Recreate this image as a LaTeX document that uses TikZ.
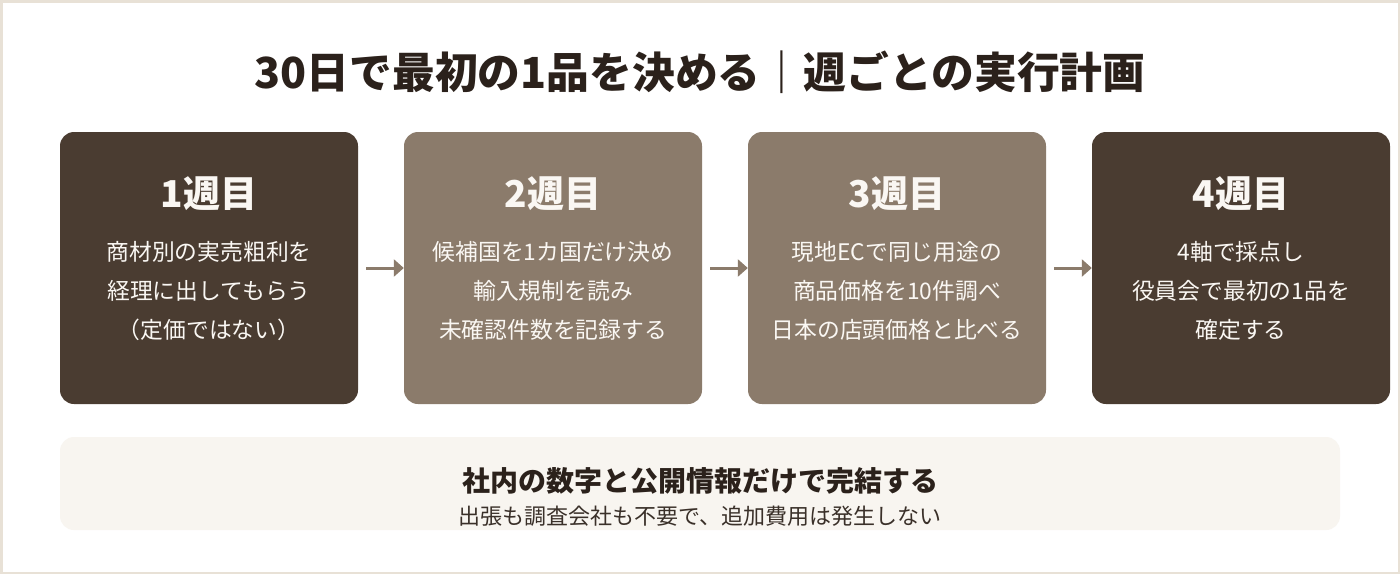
\documentclass[tikz,border=0pt]{standalone}
\usepackage{fontspec}
\setmainfont{Noto Sans CJK JP}
\usetikzlibrary{arrows.meta}
\definecolor{darkbox}{HTML}{4A3C31}
\definecolor{lightbox}{HTML}{8B7B6B}
\definecolor{notebg}{HTML}{F8F5F0}
\definecolor{framecol}{HTML}{E8E1D6}
\definecolor{inkcol}{HTML}{2B211B}
\definecolor{subink}{HTML}{3A3029}
\definecolor{boxtext}{HTML}{FAF7F3}
\tikzset{
  weekbox/.style={rectangle, rounded corners=14pt, minimum width=298pt, minimum height=272pt, inner sep=0pt, draw=none},
  weektitle/.style={text=boxtext, font=\fontsize{37}{42}\selectfont\bfseries, inner sep=0pt, text height=30.7pt, text depth=2.6pt},
  weekbody/.style={text=boxtext, font=\fontsize{22.8}{39.3}\selectfont, align=center, inner sep=0pt},
  flowarrow/.style={draw=lightbox, line width=3pt, -{Triangle[length=10pt, width=17pt]}},
  notebox/.style={rectangle, rounded corners=14pt, fill=notebg, minimum width=1280pt, minimum height=93pt, inner sep=0pt},
  maintitle/.style={text=inkcol, font=\fontsize{42.8}{50}\selectfont\bfseries, inner sep=0pt, text height=35.5pt, text depth=3pt},
  notetitle/.style={text=inkcol, font=\fontsize{28}{34}\selectfont\bfseries, inner sep=0pt, text height=23.2pt, text depth=2pt},
  notesub/.style={text=subink, font=\fontsize{22}{28}\selectfont, inner sep=0pt, text height=18.3pt, text depth=1.5pt}
}
\begin{document}
\begin{tikzpicture}[x=1pt, y=-1pt]
\useasboundingbox (0,0) rectangle (1400,574);
\draw[line width=2.5pt, draw=framecol, fill=white] (1.25,1.25) rectangle (1398.75,572.75);

\node[maintitle] (title) at (700,72) {30日で最初の1品を決める｜週ごとの実行計画};

\node[weekbox, fill=darkbox]  (b1) at (209,268) {};
\node[weekbox, fill=lightbox] (b2) at (553,268) {};
\node[weekbox, fill=lightbox] (b3) at (897,268) {};
\node[weekbox, fill=darkbox]  (b4) at (1241,268) {};

\node[weektitle] (t1) at (209,193) {1週目};
\node[weektitle] (t2) at (553,193) {2週目};
\node[weektitle] (t3) at (897,193) {3週目};
\node[weektitle] (t4) at (1241,193) {4週目};

\node[weekbody] (d1) at (209,291) {商材別の実売粗利を\\経理に出してもらう\\（定価ではない）};
\node[weekbody] (d2) at (553,291) {候補国を1カ国だけ決め\\輸入規制を読み\\未確認件数を記録する};
\node[weekbody] (d3) at (897,291) {現地ECで同じ用途の\\商品価格を10件調べ\\日本の店頭価格と比べる};
\node[weekbody] (d4) at (1241,291) {4軸で採点し\\役員会で最初の1品を\\確定する};

\draw[flowarrow] ([xshift=8pt]b1.east) -- (b2.west);
\draw[flowarrow] ([xshift=8pt]b2.east) -- (b3.west);
\draw[flowarrow] ([xshift=8pt]b3.east) -- (b4.west);

\node[notebox] (note) at (700,483.5) {};
\node[notetitle] (n1) at (700,480.5) {社内の数字と公開情報だけで完結する};
\node[notesub] (n2) at (700,516) {出張も調査会社も不要で、追加費用は発生しない};
\end{tikzpicture}
\end{document}
